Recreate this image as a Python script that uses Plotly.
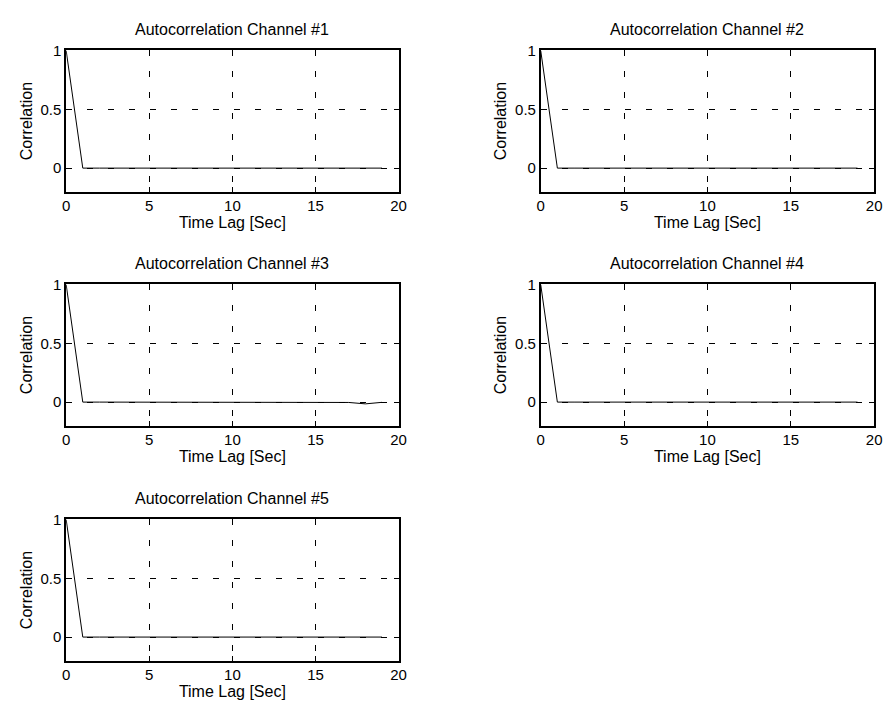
import plotly.graph_objects as go

# Lags in seconds and autocorrelation of each channel
lags = list(range(20))
ch1 = [1.0] + [0.0] * 19
ch2 = [1.0] + [0.0] * 19
ch3 = [1.0] + [0.0] * 16 + [-0.003, -0.015, -0.002]
ch4 = [1.0] + [0.0] * 19
ch5 = [1.0] + [0.0] * 19
channels = [ch1, ch2, ch3, ch4, ch5]
titles = ["Autocorrelation Channel #%d" % (i + 1) for i in range(5)]

x_ticks = [0, 5, 10, 15, 20]
y_ticks = [0, 0.5, 1]

W, H = 893, 708
# panel boxes in pixels: (left, right, top, bottom)
cols = [(63, 400), (544, 882)]
rows = [(42, 185), (279, 422), (517, 660)]

FONT = "Liberation Sans, Arial, sans-serif"
TICK_SIZE = 15
LABEL_SIZE = 16
fig = go.Figure()
annotations = []

for i, vals in enumerate(channels):
    r, c = divmod(i, 2)
    l, rt = cols[c]
    t, b = rows[r]
    xa = "xaxis" if i == 0 else "xaxis%d" % (i + 1)
    ya = "yaxis" if i == 0 else "yaxis%d" % (i + 1)
    xr = "x" if i == 0 else "x%d" % (i + 1)
    yr = "y" if i == 0 else "y%d" % (i + 1)
    fig.add_trace(go.Scatter(x=lags, y=vals, mode="lines",
                             line=dict(color="black", width=1),
                             xaxis=xr, yaxis=yr, showlegend=False))
    common = dict(showline=True, linecolor="black", linewidth=1.5, mirror="ticks",
                  ticks="inside", ticklen=5, tickwidth=1, tickcolor="black",
                  showgrid=True, gridcolor="black", gridwidth=1, griddash="6px,15px",
                  zeroline=False,
                  tickfont=dict(family=FONT, size=TICK_SIZE, color="black"))
    fig.layout[xa] = dict(domain=[l / W, rt / W], anchor=yr, range=[0, 20],
                          tickvals=x_ticks,
                          title=dict(text="Time Lag [Sec]", standoff=2,
                                     font=dict(family=FONT, size=LABEL_SIZE, color="black")),
                          **common)
    fig.layout[ya] = dict(domain=[1 - b / H, 1 - t / H], anchor=xr, range=[-0.2, 1],
                          tickvals=y_ticks,
                          title=dict(text="Correlation", standoff=4,
                                     font=dict(family=FONT, size=LABEL_SIZE, color="black")),
                          **common)
    annotations.append(dict(text=titles[i], xref="paper", yref="paper",
                            x=(l + rt) / 2 / W, y=1 - (t - 21) / H,
                            xanchor="center", yanchor="middle", showarrow=False,
                            font=dict(family=FONT, size=LABEL_SIZE, color="black")))

fig.update_layout(width=W, height=H, margin=dict(l=0, r=0, t=0, b=0),
                  plot_bgcolor="white", paper_bgcolor="white",
                  annotations=annotations)
fig.write_html("out.html")
